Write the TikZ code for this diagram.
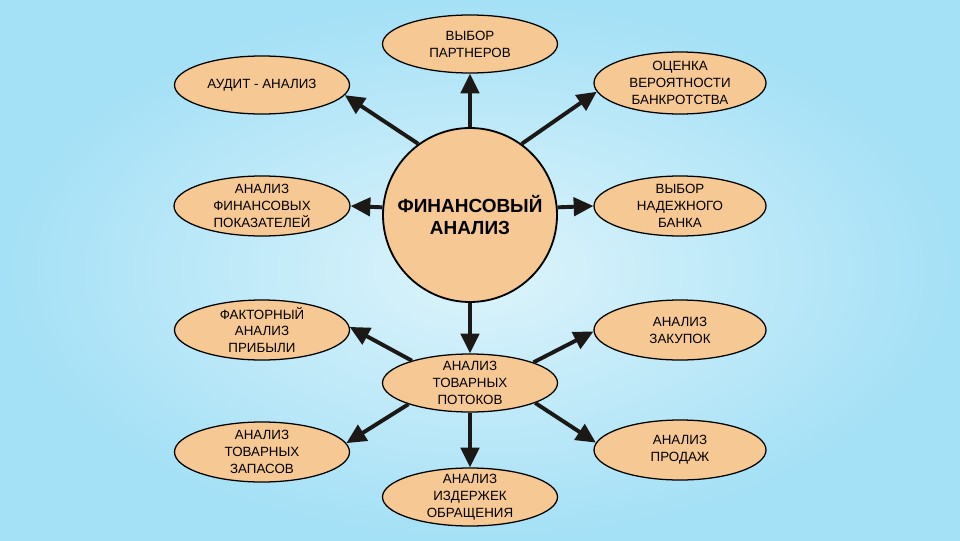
\documentclass[tikz,border=0pt]{standalone}
\usepackage{fontspec}
\setmainfont{Liberation Sans}
\usetikzlibrary{shapes.geometric,arrows.meta}
\definecolor{nodefill}{RGB}{246,200,148}
\definecolor{bginner}{RGB}{221,244,251}
\definecolor{bgouter}{RGB}{164,224,246}
\definecolor{arrowcol}{RGB}{28,24,22}
\begin{document}
\begin{tikzpicture}[
  ell/.style={ellipse, draw, line width=0.9pt, fill=nodefill, minimum width=4.375cm, minimum height=1.45cm,
    inner xsep=0pt, inner ysep=-3pt, align=center, font=\fontsize{9.5}{12}\selectfont},
  hub/.style={circle, draw, line width=1.3pt, fill=nodefill, minimum size=4.35cm, align=center,
    font=\fontsize{13.5}{16}\selectfont\bfseries},
  arr/.style={line width=2.8pt, draw=arrowcol, -{Triangle[length=14pt,width=13pt]}}
]
\shade[inner color=bginner, outer color=bgouter] (0,0) rectangle (24,13.5);

\node[hub] (fin) at (11.75,8.125) {ФИНАНСОВЫЙ\\АНАЛИЗ};

\node[ell] (partn) at (11.75,12.4) {ВЫБОР\\ПАРТНЕРОВ};
\node[ell] (audit) at (6.55,11.375) {АУДИТ - АНАЛИЗ};
\node[ell, minimum width=4.3cm, minimum height=1.55cm] (bankr) at (17,11.425) {ОЦЕНКА\\ВЕРОЯТНОСТИ\\БАНКРОТСТВА};
\node[ell, minimum width=4.4cm, minimum height=1.5cm] (pokaz) at (6.55,8.35) {АНАЛИЗ\\ФИНАНСОВЫХ\\ПОКАЗАТЕЛЕЙ};
\node[ell, minimum width=4.3cm, minimum height=1.5cm] (bank) at (17,8.35) {ВЫБОР\\НАДЕЖНОГО\\БАНКА};
\node[ell, minimum height=1.5cm] (factor) at (6.55,5.25) {ФАКТОРНЫЙ\\АНАЛИЗ\\ПРИБЫЛИ};
\node[ell, minimum width=4.3cm, minimum height=1.5cm] (zakup) at (17,5.25) {АНАЛИЗ\\ЗАКУПОК};
\node[ell] (flows) at (11.75,3.925) {АНАЛИЗ\\ТОВАРНЫХ\\ПОТОКОВ};
\node[ell, minimum height=1.5cm] (zapas) at (6.55,2.2) {АНАЛИЗ\\ТОВАРНЫХ\\ЗАПАСОВ};
\node[ell, minimum width=4.3cm, minimum height=1.5cm] (prodazh) at (17,2.25) {АНАЛИЗ\\ПРОДАЖ};
\node[ell] (izderzh) at (11.75,1.075) {АНАЛИЗ\\ИЗДЕРЖЕК\\ОБРАЩЕНИЯ};

% arrows from the hub
\draw[arr] (fin.north) -- (partn.south);
\draw[arr] (fin.126) -- (audit.-7);
\draw[arr] (fin.54) -- (bankr.186);
\draw[arr] (fin.175) -- (pokaz.east);
\draw[arr] (fin.5) -- (bank.west);
\draw[arr] (fin.south) -- (flows.north);

% arrows from the flows node
\draw[arr] (flows.159) -- (factor.2);
\draw[arr] (flows.199) -- (zapas.6);
\draw[arr] (flows.18) -- (zakup.181);
\draw[arr] (flows.-17) -- (prodazh.175);
\draw[arr] (flows.south) -- (izderzh.north);
\end{tikzpicture}
\end{document}
